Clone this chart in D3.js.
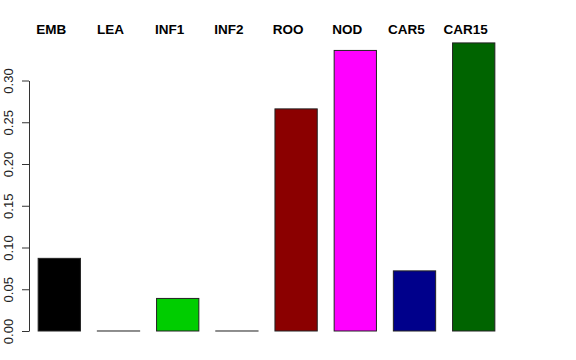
<!DOCTYPE html>
<html>
<head>
<meta charset="utf-8">
<script src="https://cdn.jsdelivr.net/npm/d3@7"></script>
<style>
  body { margin: 0; background: #fff; }
  text { font-family: "Liberation Sans", Arial, sans-serif; }
</style>
</head>
<body>
<div id="chart"></div>
<script>
var categories = ["EMB", "LEA", "INF1", "INF2", "ROO", "NOD", "CAR5", "CAR15"];
var values = [0.087, 0, 0.039, 0, 0.266, 0.336, 0.072, 0.345];
var colors = ["#000000", "#000000", "#00CD00", "#000000", "#8B0000", "#FF00FF", "#00008B", "#006400"];
var yTicks = [0, 0.05, 0.10, 0.15, 0.20, 0.25, 0.30];

var W = 576, H = 360;

var svg = d3.select("#chart").append("svg")
  .attr("width", W)
  .attr("height", H);

// bar band: space 0.4 like R barplot
var x = d3.scaleBand()
  .domain(categories)
  .range([29.7, 503.3])
  .paddingInner(0.2857)
  .paddingOuter(0.1428);

var y = d3.scaleLinear()
  .domain([0, 0.30])
  .range([331, 80.5]);

// zero bars still get a border line, so keep a hair of height
svg.selectAll("rect.bar")
  .data(categories)
  .enter().append("rect")
  .attr("class", "bar")
  .attr("x", function(d) { return x(d); })
  .attr("y", function(d, i) { return Math.min(y(values[i]), y(0) - 0.01); })
  .attr("width", x.bandwidth())
  .attr("height", function(d, i) { return Math.max(y(0) - y(values[i]), 0.01); })
  .style("fill", function(d, i) { return colors[i]; })
  .style("stroke", "#222")
  .style("stroke-width", 1);

// labels above the bars
svg.selectAll("text.lab")
  .data(categories)
  .enter().append("text")
  .attr("class", "lab")
  .attr("x", function(d) { return x(d) + x.bandwidth() / 2 - 8; })
  .attr("y", 34)
  .attr("text-anchor", "middle")
  .style("font-size", "13.5px")
  .style("font-weight", "bold")
  .text(function(d) { return d; });

// y axis, R style
var axis = d3.axisLeft(y)
  .tickValues(yTicks)
  .tickFormat(d3.format(".2f"))
  .tickSize(7)
  .tickSizeOuter(0);

var g = svg.append("g")
  .attr("transform", "translate(29,0)")
  .call(axis);

g.select(".domain").attr("stroke", "#333");
g.selectAll(".tick line").attr("stroke", "#333");
g.selectAll(".tick text")
  .attr("x", 0)
  .attr("y", 0)
  .attr("dy", 0)
  .attr("text-anchor", "middle")
  .attr("transform", "translate(-16.5,0) rotate(-90)")
  .style("font-size", "13px")
  .style("font-family", "Liberation Sans, Arial, sans-serif")
  .attr("fill", "#222");
</script>
</body>
</html>
